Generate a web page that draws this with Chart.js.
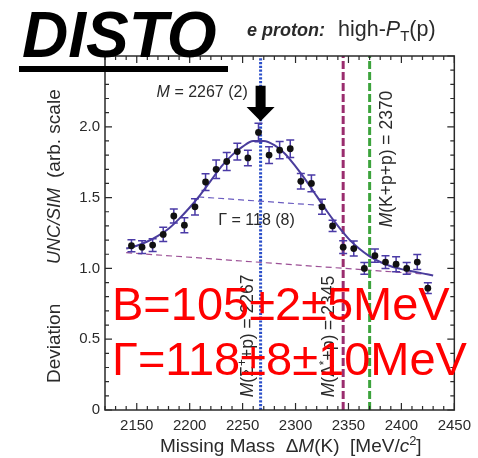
<!DOCTYPE html>
<html>
<head>
<meta charset="utf-8">
<script src="https://cdn.jsdelivr.net/npm/chart.js@4.4.1/dist/chart.umd.min.js"></script>
<style>
  html, body { margin: 0; padding: 0; background: #fff; }
  #wrap { width: 478px; height: 458px; }
</style>
</head>
<body>
<div id="wrap"><canvas id="c" width="478" height="458"></canvas></div>
<script>
// measured points (missing mass bins, ratio UNC/SIM, error)
const massBins = [2145,2155,2165,2175,2185,2195,2205,2215,2225,2235,2245,2255,2265,2275,2285,2295,2305,2315,2325,2335,2345,2355,2365,2375,2385,2395,2405,2415,2425];
const deviation = [1.16,1.15,1.165,1.24,1.37,1.305,1.435,1.61,1.70,1.755,1.825,1.78,1.96,1.80,1.835,1.845,1.615,1.60,1.435,1.30,1.15,1.14,1.00,1.09,1.045,1.03,1.00,1.045,0.86];
const devError = [0.043,0.045,0.045,0.05,0.05,0.053,0.057,0.059,0.065,0.064,0.059,0.055,0.065,0.059,0.061,0.062,0.055,0.059,0.053,0.04,0.045,0.053,0.041,0.047,0.045,0.053,0.041,0.053,0.038];

// fitted curve
const fitMass = [2140,2150,2160,2170,2180,2190,2200,2210,2220,2230,2240,2250,2260,2270,2280,2290,2300,2310,2320,2330,2340,2350,2360,2370,2380,2390,2400,2410,2420,2430];
const fitValue = [1.14,1.16,1.19,1.23,1.28,1.35,1.43,1.52,1.62,1.72,1.80,1.86,1.90,1.90,1.87,1.81,1.72,1.62,1.51,1.40,1.30,1.21,1.14,1.085,1.045,1.015,0.995,0.98,0.965,0.95];

// background line and half-maximum line
const bkgMass = [2140, 2430];
const bkgValue = [1.111, 0.955];
const fwhmMass = [2208, 2326];
const fwhmValue = [1.505, 1.444];

// thresholds
const thresholdMass = [2267, 2345, 2370];
const thresholdColors = ['#2b4fc9', '#9a2d6e', '#3ca33c'];

// axes
const xRange = [2120, 2450];
const yRange = [0, 2.5];
const xMajorTicks = [2150, 2200, 2250, 2300, 2350, 2400, 2450];
const yMajorTicks = [0, 0.5, 1.0, 1.5, 2.0];

const FONT = '"Liberation Sans", Arial, Helvetica, sans-serif';
const TEXT = '#2a2a2a';

function drawParts(ctx, parts, x, y, size, color) {
  // parts: [text, style] with style one of '', 'i', 'b', 'bi', 'sup', 'sub'
  let cx = x;
  parts.forEach(([t, st]) => {
    let sz = size, dy = 0, pre = '';
    if (st === 'sup') { sz = size * 0.68; dy = -size * 0.38; }
    else if (st === 'sub') { sz = size * 0.7; dy = size * 0.22; }
    else {
      if (st === 'i' || st === 'bi') pre += 'italic ';
      if (st === 'b' || st === 'bi') pre += 'bold ';
    }
    ctx.font = pre + sz + 'px ' + FONT;
    ctx.fillStyle = color || TEXT;
    ctx.fillText(t, cx, y + dy);
    cx += ctx.measureText(t).width;
  });
  return cx - x;
}

const overlay = {
  id: 'overlay',
  beforeDatasetDraw(chart, args) {
    if (args.index !== 0) return;
    const ctx = chart.ctx, xs = chart.scales.x, ys = chart.scales.y;
    ctx.save();
    ctx.strokeStyle = '#4a3aa6';
    ctx.lineWidth = 1.5;
    massBins.forEach((m, i) => {
      const px = xs.getPixelForValue(m);
      const y1 = ys.getPixelForValue(deviation[i] - devError[i]);
      const y2 = ys.getPixelForValue(deviation[i] + devError[i]);
      ctx.beginPath();
      ctx.moveTo(px, y1); ctx.lineTo(px, y2);
      ctx.moveTo(px - 4, y1); ctx.lineTo(px + 4, y1);
      ctx.moveTo(px - 4, y2); ctx.lineTo(px + 4, y2);
      ctx.stroke();
    });
    ctx.restore();
  },
  afterDraw(chart) {
    const ctx = chart.ctx, xs = chart.scales.x, ys = chart.scales.y;
    const a = chart.chartArea;
    ctx.save();

    // frame and inward ticks
    ctx.strokeStyle = TEXT;
    ctx.lineWidth = 1.5;
    ctx.strokeRect(a.left, a.top, a.right - a.left, a.bottom - a.top);
    ctx.lineWidth = 1.2;
    ctx.beginPath();
    for (let v = xRange[0]; v <= xRange[1]; v += 10) {
      const px = xs.getPixelForValue(v);
      const len = v % 50 === 0 ? 7 : 4;
      ctx.moveTo(px, a.bottom); ctx.lineTo(px, a.bottom - len);
      ctx.moveTo(px, a.top); ctx.lineTo(px, a.top + len);
    }
    for (let k = 0; k <= 25; k++) {
      const py = ys.getPixelForValue(k / 10);
      const len = k % 5 === 0 ? 7 : 4;
      ctx.moveTo(a.left, py); ctx.lineTo(a.left + len, py);
      ctx.moveTo(a.right, py); ctx.lineTo(a.right - len, py);
    }
    ctx.stroke();

    // arrow at the fitted mass
    const ax = xs.getPixelForValue(thresholdMass[0]);
    const aTop = ys.getPixelForValue(2.29), aHead = ys.getPixelForValue(2.14), aTip = ys.getPixelForValue(2.04);
    ctx.fillStyle = '#000';
    ctx.beginPath();
    ctx.moveTo(ax - 5, aTop); ctx.lineTo(ax + 5, aTop); ctx.lineTo(ax + 5, aHead);
    ctx.lineTo(ax + 14, aHead); ctx.lineTo(ax, aTip); ctx.lineTo(ax - 14, aHead);
    ctx.lineTo(ax - 5, aHead); ctx.closePath(); ctx.fill();

    ctx.textBaseline = 'alphabetic';
    ctx.textAlign = 'left';
    drawParts(ctx, [['M', 'i'], [' = 2267 (2)', '']], ax - 104, ys.getPixelForValue(2.21), 16);
    drawParts(ctx, [['\u0393 = 118 (8)', '']], xs.getPixelForValue(2227), ys.getPixelForValue(1.31), 16);

    // rotated threshold labels
    const rot = (x, y, parts) => {
      ctx.save(); ctx.translate(x, y); ctx.rotate(-Math.PI / 2);
      drawParts(ctx, parts, 0, 0, 17.5); ctx.restore();
    };
    rot(xs.getPixelForValue(thresholdMass[0]) - 8, ys.getPixelForValue(0.09),
      [['M', 'i'], ['(\u03A3', ''], ['+', 'sup'], ['+p) = 2267', '']]);
    rot(xs.getPixelForValue(thresholdMass[1]) - 9, ys.getPixelForValue(0.09),
      [['M', 'i'], ['(\u039B', ''], ['*', 'sup'], ['+p) = 2345', '']]);
    rot(xs.getPixelForValue(thresholdMass[2]) + 22, ys.getPixelForValue(1.29),
      [['M', 'i'], ['(K+p+p) = 2370', '']]);

    // axis titles
    ctx.save(); ctx.translate(60, 0); ctx.rotate(-Math.PI / 2);
    drawParts(ctx, [['Deviation', '']], -383, 0, 19);
    drawParts(ctx, [['UNC/SIM', 'i']], -264, 0, 18);
    drawParts(ctx, [['(arb. scale', '']], -178, 0, 19);
    ctx.restore();
    drawParts(ctx, [['Missing Mass  \u0394', ''], ['M', 'i'], ['(K)  [MeV/', ''], ['c', 'i'], ['2', 'sup'], [']', '']], 160, 452, 19);

    // header
    drawParts(ctx, [['DISTO', 'bi']], 22, 57, 64, '#000');
    ctx.fillStyle = '#000';
    ctx.fillRect(19, 66, 209, 6);
    drawParts(ctx, [['e proton:', 'bi']], 247, 36, 18);
    drawParts(ctx, [['high-', ''], ['P', 'i'], ['T', 'sub'], ['(p)', '']], 338, 36, 21.5);

    // result overlay
    ctx.font = '47px ' + FONT;
    ctx.fillStyle = '#ff0000';
    ctx.fillText('B=105\u00B12\u00B15MeV', 112, 320);
    ctx.fillText('\u0393=118\u00B18\u00B110MeV', 112, 375);
    ctx.restore();
  }
};

const lineSet = (xsArr, ysArr, color, width, dash, order, extra) => Object.assign({
  type: 'line',
  data: xsArr.map((m, i) => ({ x: m, y: ysArr[i] })),
  borderColor: color, borderWidth: width, borderDash: dash || [],
  pointRadius: 0, fill: false, order: order
}, extra || {});

const datasets = [
  {
    type: 'scatter',
    data: massBins.map((m, i) => ({ x: m, y: deviation[i] })),
    pointRadius: 3.4, pointBackgroundColor: '#111', pointBorderWidth: 0, order: 1
  },
  lineSet(fitMass, fitValue, '#4a3d9c', 2, null, 2, { tension: 0.4, cubicInterpolationMode: 'monotone' }),
  lineSet(bkgMass, bkgValue, '#9c5096', 1.2, [6, 4], 6),
  lineSet(fwhmMass, fwhmValue, '#6a5cc0', 1.2, [6, 4], 6)
];
thresholdMass.forEach((m, i) => {
  const dash = i === 0 ? [2.2, 1.6] : [8, 3];
  datasets.push(lineSet([m, m], yRange, thresholdColors[i], 3, dash, 3));
});

new Chart(document.getElementById('c'), {
  type: 'scatter',
  data: { datasets },
  options: {
    responsive: false,
    animation: false,
    devicePixelRatio: 1,
    layout: { padding: { left: 0, right: 20, top: 56, bottom: 0 } },
    plugins: { legend: { display: false }, tooltip: { enabled: false } },
    scales: {
      x: {
        type: 'linear', min: xRange[0], max: xRange[1],
        afterFit(s) { s.height = 48; },
        grid: { display: false, drawTicks: false },
        border: { display: false },
        ticks: {
          stepSize: 10, autoSkip: false, maxRotation: 0, padding: 7,
          color: TEXT, font: { family: FONT, size: 15 },
          callback: v => xMajorTicks.includes(v) ? String(v) : ''
        }
      },
      y: {
        type: 'linear', min: yRange[0], max: yRange[1],
        afterFit(s) { s.width = 105; },
        grid: { display: false, drawTicks: false },
        border: { display: false },
        ticks: {
          stepSize: 0.1, autoSkip: false, padding: 5,
          color: TEXT, font: { family: FONT, size: 15 },
          callback: v => {
            const r = Math.round(v * 10) / 10;
            if (!yMajorTicks.includes(r)) return '';
            return r === 0 ? '0' : r.toFixed(1);
          }
        }
      }
    }
  },
  plugins: [overlay]
});
</script>
</body>
</html>
